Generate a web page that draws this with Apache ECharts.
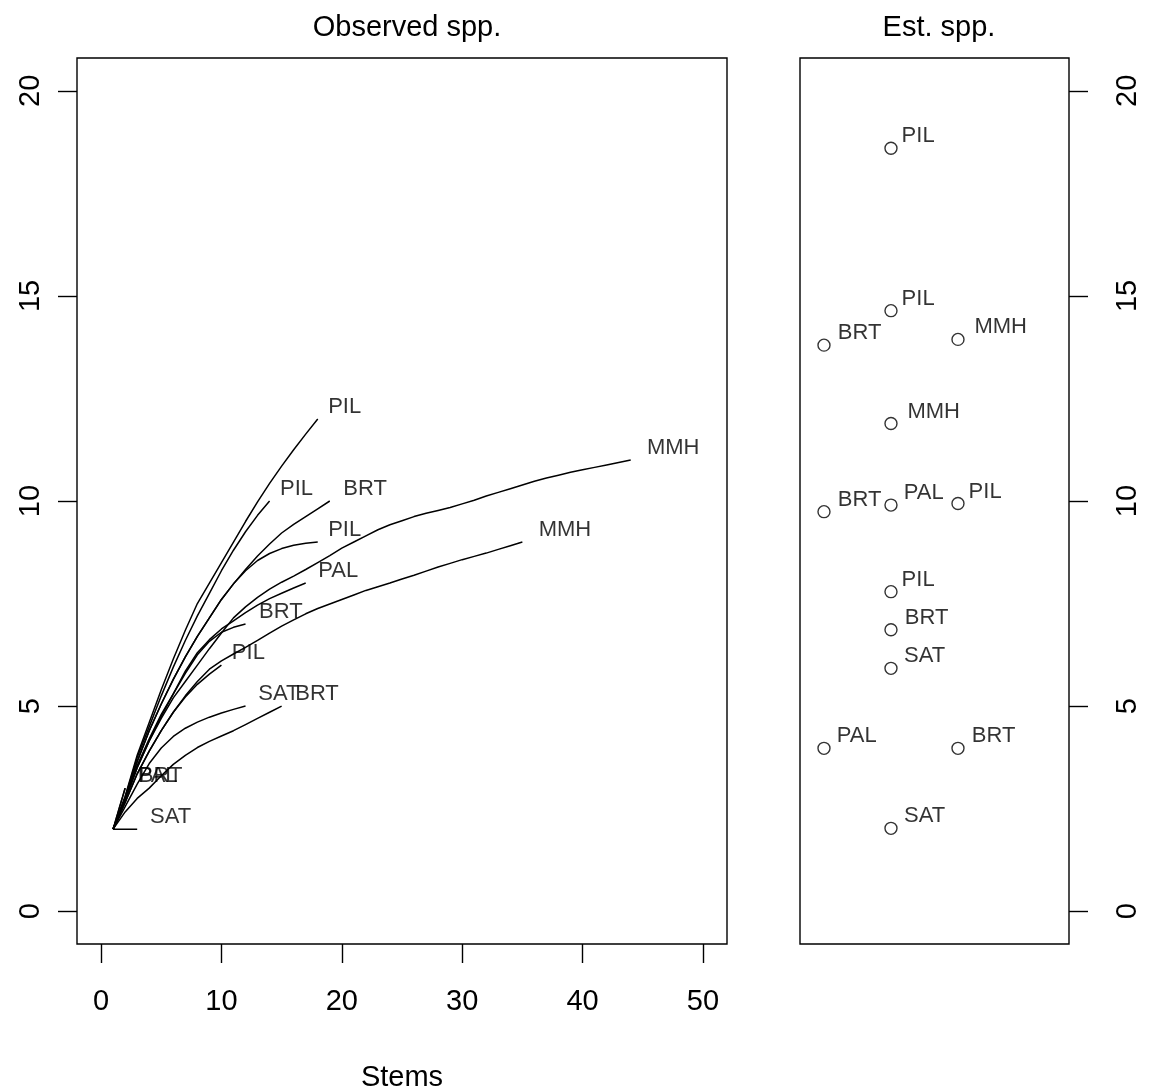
<!DOCTYPE html>
<html><head><meta charset="utf-8">
<script src="https://cdn.jsdelivr.net/npm/echarts@6/dist/echarts.min.js"></script>
<style>html,body{margin:0;padding:0;background:#fff}#c{width:1149px;height:1092px}</style>
</head><body><div id="c"></div>
<script>
// ---- data: rarefaction curves (species vs stems, x = 1..n) ----
const curveNames = ['PIL','PIL','BRT','PIL','MMH','MMH','PAL','BRT','PIL','SAT','BRT','BRT','PAL','SAT'];
const curvePIL1 = [2, 2.8, 3.8, 4.6, 5.4, 6.15, 6.85, 7.5, 8.0, 8.5, 9.0, 9.5, 9.98, 10.43, 10.85, 11.25, 11.63, 12.0];
const curvePIL2 = [2, 2.78, 3.75, 4.5, 5.25, 5.95, 6.6, 7.2, 7.75, 8.3, 8.8, 9.25, 9.65, 10.0];
const curveBRT1 = [2, 2.75, 3.65, 4.4, 5.05, 5.65, 6.2, 6.7, 7.15, 7.6, 7.98, 8.33, 8.66, 8.95, 9.22, 9.43, 9.62, 9.81, 10.0];
const curvePIL3 = [2, 2.75, 3.65, 4.4, 5.05, 5.65, 6.2, 6.7, 7.15, 7.6, 7.98, 8.3, 8.55, 8.72, 8.84, 8.92, 8.97, 9.0];
const curveMMH1 = [2, 2.7, 3.5, 4.15, 4.7, 5.2, 5.6, 6.0, 6.4, 6.78, 7.15, 7.42, 7.65, 7.85, 8.02, 8.17, 8.33, 8.5, 8.67, 8.85, 9.0, 9.15, 9.3, 9.42, 9.52, 9.62, 9.7, 9.77, 9.84, 9.93, 10.02, 10.12, 10.21, 10.3, 10.39, 10.48, 10.56, 10.63, 10.7, 10.76, 10.82, 10.88, 10.94, 11.0];
const curveMMH2 = [2, 2.65, 3.35, 3.9, 4.4, 4.85, 5.25, 5.6, 5.9, 6.1, 6.27, 6.43, 6.6, 6.78, 6.95, 7.1, 7.25, 7.38, 7.49, 7.6, 7.71, 7.82, 7.91, 8.0, 8.1, 8.19, 8.29, 8.39, 8.48, 8.57, 8.65, 8.73, 8.82, 8.91, 9.0];
const curvePAL1 = [2, 2.75, 3.55, 4.2, 4.8, 5.3, 5.85, 6.3, 6.62, 6.88, 7.08, 7.28, 7.46, 7.62, 7.75, 7.88, 8.0];
const curveBRT2 = [2, 2.72, 3.5, 4.15, 4.75, 5.3, 5.8, 6.25, 6.58, 6.8, 6.92, 7.0];
const curvePIL4 = [2, 2.65, 3.35, 3.9, 4.4, 4.85, 5.22, 5.53, 5.78, 6.0];
const curveSAT1 = [2, 2.55, 3.1, 3.6, 3.98, 4.26, 4.46, 4.61, 4.73, 4.83, 4.92, 5.0];
const curveBRT3 = [2, 2.42, 2.75, 3.0, 3.3, 3.58, 3.8, 3.99, 4.14, 4.27, 4.4, 4.55, 4.7, 4.85, 5.0];
const curveBRT4 = [2, 3];
const curvePAL2 = [2, 3];
const curveSAT2 = [2, 2, 2];
const curves = [curvePIL1, curvePIL2, curveBRT1, curvePIL3, curveMMH1, curveMMH2, curvePAL1, curveBRT2, curvePIL4, curveSAT1, curveBRT3, curveBRT4, curvePAL2, curveSAT2];

// ---- data: estimated species ----
const estNames  = ['PIL','PIL','BRT','MMH','MMH','BRT','PAL','PIL','PIL','BRT','SAT','PAL','BRT','SAT'];
const estValues = [18.6, 14.64, 13.8, 13.94, 11.89, 9.74, 9.9, 9.94, 7.79, 6.86, 5.92, 3.97, 3.97, 2.02];
const estColumn = [2, 2, 1, 3, 2, 1, 2, 3, 2, 2, 2, 1, 3, 2];

// ---- tick labels ----
const xTicks = [0, 10, 20, 30, 40, 50];
const yTicks = [0, 5, 10, 15, 20];

const FONT = '"Liberation Sans", Arial, sans-serif';
const LBL = 22;
const cv = document.createElement('canvas').getContext('2d');
cv.font = LBL + 'px "Liberation Sans"';
function lblOffset(t){ return [0.3 * cv.measureText(t).width, -12]; }

const chart = echarts.init(document.getElementById('c'), null, {renderer: 'canvas'});

const axisTxt = {fontSize: 29, color: '#000', fontFamily: FONT};
const tickStyle = {color: '#000', width: 1.4};

const series = [];
curves.forEach((c, k) => {
  series.push({
    type: 'line', xAxisIndex: 0, yAxisIndex: 0, symbol: 'none', silent: true,
    lineStyle: {color: '#000', width: 1.5},
    data: c.map((v, i) => [i + 1, v])
  });
});
series.push({
  type: 'scatter', xAxisIndex: 0, yAxisIndex: 0, symbolSize: 1, silent: true,
  itemStyle: {color: 'rgba(0,0,0,0)'},
  data: curves.map((c, k) => ({
    value: [c.length, c[c.length - 1]], name: curveNames[k],
    label: {offset: lblOffset(curveNames[k])}
  })),
  label: {show: true, position: 'right', distance: 0, formatter: p => p.name,
          fontSize: LBL, color: '#000', fontFamily: FONT, verticalAlign: 'middle'}
});
series.push({
  type: 'scatter', xAxisIndex: 1, yAxisIndex: 1, symbol: 'circle', symbolSize: 12, silent: true,
  itemStyle: {color: '#fff', borderColor: '#000', borderWidth: 1.4},
  data: estValues.map((v, i) => ({value: [estColumn[i], v], name: estNames[i],
    label: {offset: lblOffset(estNames[i])}})),
  label: {show: true, position: 'right', distance: -6, formatter: p => p.name,
          fontSize: LBL, color: '#000', fontFamily: FONT, verticalAlign: 'middle'}
});

chart.setOption({
  animation: false,
  backgroundColor: '#fff',
  title: [
    {text: 'Observed spp.', left: 402, top: 8, textAlign: 'center',
     textStyle: {fontSize: 29, fontWeight: 'normal', color: '#000', fontFamily: FONT}},
    {text: 'Est. spp.', left: 934, top: 8, textAlign: 'center',
     textStyle: {fontSize: 29, fontWeight: 'normal', color: '#000', fontFamily: FONT}}
  ],
  grid: [
    {left: 77, top: 58, width: 650, height: 886, show: true, borderColor: '#000', borderWidth: 1.4,
     backgroundColor: 'transparent', containLabel: false, outerBoundsMode: 'none'},
    {left: 800, top: 58, width: 269, height: 886, show: true, borderColor: '#000', borderWidth: 1.4,
     backgroundColor: 'transparent', containLabel: false, outerBoundsMode: 'none'}
  ],
  xAxis: [
    {type: 'value', gridIndex: 0, min: -2, max: 52, position: 'bottom',
     axisLine: {show: false, onZero: false}, splitLine: {show: false},
     axisTick: {show: true, inside: false, length: 19, customValues: xTicks, lineStyle: tickStyle},
     axisLabel: Object.assign({customValues: xTicks, margin: 43}, axisTxt),
     name: 'Stems', nameLocation: 'middle', nameGap: 119, nameTextStyle: axisTxt},
    {type: 'value', gridIndex: 1, min: 0.642, max: 4.657, show: false, axisLine: {onZero: false}}
  ],
  yAxis: [
    {type: 'value', gridIndex: 0, min: -0.8, max: 20.8, position: 'left',
     axisLine: {show: false, onZero: false}, splitLine: {show: false},
     axisTick: {show: true, inside: false, length: 19, customValues: yTicks, lineStyle: tickStyle},
     axisLabel: Object.assign({customValues: yTicks, margin: 32, rotate: 90}, axisTxt)},
    {type: 'value', gridIndex: 1, position: 'right', min: -0.8, max: 20.8,
     axisLine: {show: false, onZero: false}, splitLine: {show: false},
     axisTick: {show: true, inside: false, length: 19, customValues: yTicks, lineStyle: tickStyle},
     axisLabel: Object.assign({customValues: yTicks, margin: 44, rotate: 90}, axisTxt)}
  ],
  series: series
});
</script>
</body></html>
